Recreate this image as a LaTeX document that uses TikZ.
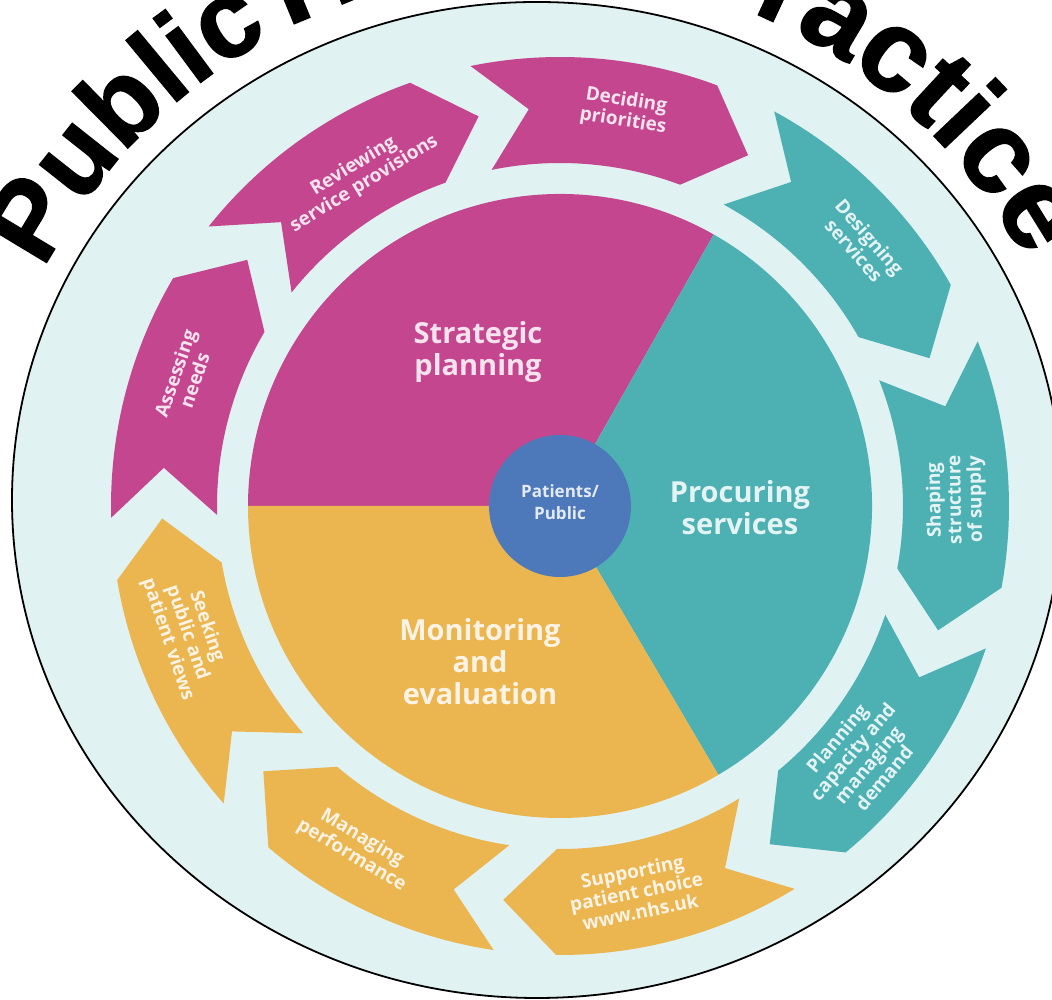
\documentclass[tikz,border=0pt]{standalone}
\usepackage{fontspec}
\setsansfont{Open Sans}
\newfontfamily\titlefont{Liberation Sans}[BoldFeatures={FakeBold=1.2}]
\usetikzlibrary{decorations.text}
\definecolor{bgc}{HTML}{E1F2F3}
\definecolor{pinkc}{HTML}{C4468F}
\definecolor{tealc}{HTML}{4DB0B3}
\definecolor{yelc}{HTML}{EBB54F}
\definecolor{bluec}{HTML}{4D79BB}
\newcommand\chev[2]{%
  \fill[#2] (#1:449) -- ({#1-7}:398) -- (#1:343)
    arc[start angle=#1, end angle={#1-32}, radius=343]
    -- ({#1-39.7}:398) -- ({#1-32}:449)
    arc[start angle={#1-32}, end angle=#1, radius=449] -- cycle;}
\tikzset{
  ringlbl/.style={font=\sffamily\bfseries\fontsize{19}{20.5}\selectfont, text=white, text opacity=0.85, align=center, inner sep=0pt},
  pielbl/.style={font=\sffamily\bfseries\fontsize{29}{32}\selectfont, text=white, text opacity=0.85, align=center, inner sep=0pt},
  ctrlbl/.style={font=\sffamily\bfseries\fontsize{17}{22}\selectfont, text=white, text opacity=0.85, align=center, inner sep=0pt},
}
\begin{document}
\begin{tikzpicture}[x=1pt, y=1pt]
\useasboundingbox (0,0) rectangle (1052,1000);
\clip (0,0) rectangle (1052,1000);
\fill[white] (0,0) rectangle (1052,1000);
% outer ellipse
\draw[line width=1.8pt, fill=bgc] (537,500) ellipse [x radius=525, y radius=498];
% title
\path[decorate, decoration={text along path, text align=left, text color=black,
  text={|\titlefont\bfseries\fontsize{110}{110}\selectfont|Public}}]
  (537,476) ++(152.7:555) arc[start angle=152.7, end angle=95, radius=555];
\path[decorate, decoration={text along path, text align=left, text color=black,
  text={|\titlefont\bfseries\fontsize{117}{117}\selectfont|Health}}]
  (537,476) ++(116.7:555) arc[start angle=116.7, end angle=55, radius=555];
\path[decorate, decoration={text along path, text align=left, text color=black,
  text={|\titlefont\bfseries\fontsize{117}{117}\selectfont|Practice}}]
  (537,476) ++(75.4:555) arc[start angle=75.4, end angle=10, radius=555];
\begin{scope}[shift={(560,494)}]
  % inner pie
  \fill[pinkc] (0,0) -- (60.5:312) arc[start angle=60.5, end angle=180, radius=312] -- cycle;
  \fill[tealc] (0,0) -- (-59.5:312) arc[start angle=-59.5, end angle=60.5, radius=312] -- cycle;
  \fill[yelc] (0,0) -- (180:312) arc[start angle=180, end angle=300.5, radius=312] -- cycle;
  % ring of arrows
  \chev{101.5}{pinkc}
  \chev{141.5}{pinkc}
  \chev{181.5}{pinkc}
  \chev{61.5}{tealc}
  \chev{21.5}{tealc}
  \chev{-18.5}{tealc}
  \chev{-58.5}{yelc}
  \chev{-98.5}{yelc}
  \chev{-138.5}{yelc}
  % centre
  \node[circle, fill=bluec, minimum size=142pt, inner sep=0pt] (pp) at (0,0) {};
  \node[ctrlbl] (ppt) at (0,4) {Patients/\\Public};
  % ring labels
  \node[ringlbl, rotate=-9.3] (l1) at (80.7:400) {Deciding\\priorities};
  \node[ringlbl, rotate=31.3] (l2) at (121.3:387) {Reviewing\\service provisions};
  \node[ringlbl, rotate=71] (l3) at (161:397) {Assessing\\needs};
  \node[ringlbl, rotate=-49] (l4) at (41:400) {Designing\\services};
  \node[ringlbl, rotate=90.9] (l5) at (0.9:396) {Shaping\\structure\\of supply};
  \node[ringlbl, rotate=50] (l6) at (-40:392) {Planning\\capacity and\\managing\\demand};
  \node[ringlbl, rotate=11.5] (l7) at (-78.8:393) {Supporting\\patient choice\\www.nhs.uk};
  \node[ringlbl, rotate=-30.8] (l8) at (239.2:397) {Managing\\performance};
  \node[ringlbl, rotate=-71.2] (l9) at (198.8:394) {Seeking\\public and\\patient views};
\end{scope}
% pie labels
\node[pielbl] (sp) at (478,648) {Strategic\\planning};
\node[pielbl] (ps) at (740,492) {Procuring\\services};
\node[pielbl] (me) at (480,338) {Monitoring\\and\\evaluation};
\end{tikzpicture}
\end{document}
